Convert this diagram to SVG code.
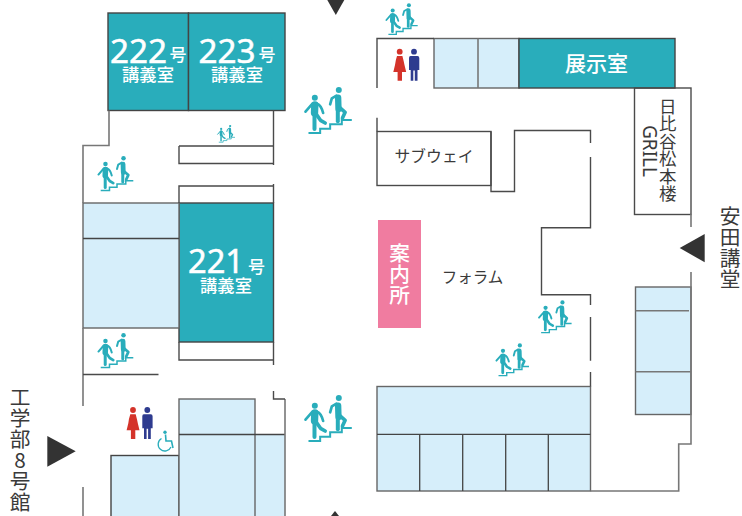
<svg xmlns="http://www.w3.org/2000/svg" width="742" height="516" viewBox="0 0 742 516">
<style>
text{font-family:"Noto Sans CJK JP","Noto Sans",sans-serif;}
.teal{fill:#29adbb;stroke:#444;stroke-width:1.4}
.blue{fill:#d6eefa;stroke:#666;stroke-width:1.4}
.div{fill:none;stroke:#444;stroke-width:1.3}
.wall{fill:none;stroke:#4a4a4a;stroke-width:1.4}
.gw{fill:none;stroke:#777;stroke-width:1.6}
.w{fill:#fff;text-anchor:middle;font-weight:500}
.d{fill:#3a3a3a;text-anchor:middle;font-weight:400}
.arrow{fill:#333}
.st{fill:#29adbb}
.ln{fill:none;stroke:#29adbb;stroke-linecap:round;stroke-linejoin:round}
.num{fill:#fff;stroke:#fff;stroke-width:.5;text-anchor:middle;font-family:"Noto Sans",sans-serif;font-size:32px;font-weight:400}
</style>
<defs>
<symbol id="stairs" viewBox="0 0 142 142" overflow="visible">
<circle class="st" cx="31" cy="32" r="9"/>
<circle class="st" cx="103" cy="9" r="9"/>
<path class="ln" d="M31 54L30 78" stroke-width="22"/>
<path class="ln" d="M24 50L3 74" stroke-width="8"/>
<path class="ln" d="M38 50Q50 54 56 78" stroke-width="8"/>
<path class="ln" d="M30 78L30 126" stroke-width="12"/>
<path class="ln" d="M34 80L48 100L62 108" stroke-width="11"/>
<path class="ln" d="M101 32L102 66" stroke-width="19"/>
<path class="ln" d="M96 26L82 34L77 52" stroke-width="8"/>
<path class="ln" d="M100 68L100 103" stroke-width="12"/>
<path class="ln" d="M106 62L122 76L114 93" stroke-width="11"/>
<path d="M12 138H47V125H77V112H112V99H142" fill="none" stroke="#29adbb" stroke-width="6"/>
</symbol>
<g id="wc">
<circle cx="399.7" cy="51.7" r="2.9" fill="#d4332a"/>
<path d="M397 56H402.4Q404 62 404.5 65L406.2 72H402V80.7H397.6V72H393.3L395 65Q395.6 60 397 56Z" fill="#d4332a"/>
<circle cx="414" cy="51.7" r="2.9" fill="#2e3b8f"/>
<path d="M410.5 56H417.5Q419.3 56 419.3 58V70H417.5V80.7H414.8V70.5H413.3V80.7H410.7V70H409V58Q409 56 410.5 56Z" fill="#2e3b8f"/>
</g>
</defs>

<g id="room-222"><rect class="teal" x="108" y="13" width="80.5" height="97.5"/>
<text class="num" x="138.5" y="63" textLength="57" lengthAdjust="spacingAndGlyphs">222</text>
<text class="w" x="178" y="61" font-size="17">号</text>
<text class="w" x="148" y="81" font-size="17.3">講義室</text></g>
<g id="room-223"><rect class="teal" x="188.5" y="13" width="96.5" height="97.5"/>
<text class="num" x="227" y="63" textLength="57" lengthAdjust="spacingAndGlyphs">223</text>
<text class="w" x="267" y="61" font-size="17">号</text>
<text class="w" x="237" y="81" font-size="17.3">講義室</text></g>
<g id="room-221"><rect class="teal" x="179" y="203" width="94.5" height="139"/>
<text class="num" x="216" y="273" textLength="56" lengthAdjust="spacingAndGlyphs">221</text>
<text class="w" x="256.5" y="273" font-size="17">号</text>
<text class="w" x="226" y="292" font-size="17.3">講義室</text></g>
<g id="room-left-blue"><rect class="blue" x="83" y="203" width="96" height="125"/><path class="div" d="M83 238.500H179"/></g>
<g id="room-top-blue"><rect class="blue" x="434" y="38.500" width="85" height="49.500"/><path class="gw" d="M478 38.500V88"/></g>
<g id="room-exhibition"><rect class="teal" x="519" y="38.500" width="156" height="49.500"/>
<text class="w" x="596.500" y="70.500" font-size="21">展示室</text></g>
<g id="room-grill"><rect class="wall" x="634.500" y="88" width="56.500" height="126.500"/>
<text class="d" font-size="17.500" x="667.700 667.700 667.700 667.700 667.700 667.700" y="112.500 130 147.500 165 182.500 200">日比谷松本楼</text>
<text class="d" transform="translate(642.500 151) rotate(90)" font-size="19" style="font-family:'Noto Sans',sans-serif">GRILL</text></g>
<g id="room-subway"><rect class="wall" x="377" y="131.500" width="114" height="54"/>
<text class="d" x="434" y="162" font-size="15.800">サブウェイ</text></g>
<g id="info"><rect x="378" y="220" width="43" height="108" fill="#f07ca0"/>
<text class="w" font-size="20.700" x="399.500 399.500 399.500" y="261 282 303">案内所</text></g>
<g id="forum"><text class="d" x="472.500" y="282.500" font-size="15.500">フォラム</text></g>
<g id="room-right-blue"><rect class="blue" x="635.500" y="287" width="55.500" height="127.500"/><path class="gw" d="M635.500 310.700H689M635.500 371.700H691"/></g>
<g id="room-bottom-blue"><rect class="blue" x="377" y="386.500" width="213.500" height="104.500"/>
<path class="div" d="M377 434.300H590.500M419.700 434.300V491M462.700 434.300V491M505.700 434.300V491M548.300 434.300V491"/></g>
<g id="room-bl"><rect class="blue" x="111" y="455.500" width="68" height="70" style="stroke:#444"/>
<path d="M255 434.500H285V520H255Z" fill="#d6eefa"/>
<rect class="blue" x="179" y="399" width="76" height="121"/>
<path class="div" d="M179 434.500H285"/>
<path class="gw" d="M285 399V516"/></g>

<g id="walls">
<path class="gw" d="M109 110.500V145.500H83V203"/>
<path class="gw" d="M83 328V406M83 487V516"/>
<path class="wall" d="M273.500 110.500V165M179 146H273.500M179 146V163.500H273.500"/>
<path class="wall" d="M179 203V186H273.500M273.500 184V203"/>
<path class="wall" d="M179 342V360H273.500M273.500 342V365"/>
<path class="wall" d="M83 374.500H158.500"/>
<path class="wall" d="M273.500 391V399H285"/>
<path class="wall" d="M377 88V38.500H434M377 117.700V131.500"/>
<path class="wall" d="M491 131.500V191.500H514.500V130.500H590.500V143M590.500 157V227.700H541.500V294.700H590.500V305M590.500 317V360.700M590.500 372V386.500"/>
<path class="gw" d="M691 214V227M691 272V444H678.700V491H590.500"/>
</g>

<use href="#stairs" x="304.500" y="87" width="47.300" height="47.300"/>
<use href="#stairs" x="304.500" y="395" width="47.300" height="47.300"/>
<use href="#stairs" x="97.700" y="156" width="35.600" height="35.600"/>
<use href="#stairs" x="97.700" y="333" width="35.600" height="35.600"/>
<use href="#stairs" x="217.300" y="125" width="17.700" height="17.700"/>
<use href="#stairs" x="385.700" y="3.300" width="32" height="32"/>
<use href="#stairs" x="538.300" y="300.300" width="33.300" height="33.300"/>
<use href="#stairs" x="495.700" y="343.300" width="33.300" height="33.300"/>

<g id="restroom-top"><use href="#wc"/></g>
<g id="restroom-bottom"><use href="#wc" transform="translate(-266.700 358.300)"/></g>
<g id="wheelchair" fill="none" stroke="#29adbb">
<circle cx="165" cy="432.300" r="1.700" fill="#29adbb" stroke="none"/>
<path d="M165.500 434.500L166 441H171.500L173 448" stroke-width="1.600"/>
<path d="M161.500 438.500A6.700 6.700 0 1 0 171 447" stroke-width="1.300"/>
</g>

<g id="arrows">
<path class="arrow" d="M327.300 0H344.300L335.800 15Z"/>
<path class="arrow" d="M331 516L335 511L339 516Z"/>
<path class="arrow" d="M47.300 436V466.700L75.700 451.300Z"/>
<path class="arrow" d="M704.700 234V262.300L679.700 248Z"/>
</g>
<g id="labels">
<text class="d" font-size="20.700" x="20 20 20 20 20 20" y="405 426 447 468 489 510">工学部8号館</text>
<text class="d" font-size="20.700" x="730 730 730 730" y="224 245 266 287">安田講堂</text>
</g>
</svg>
